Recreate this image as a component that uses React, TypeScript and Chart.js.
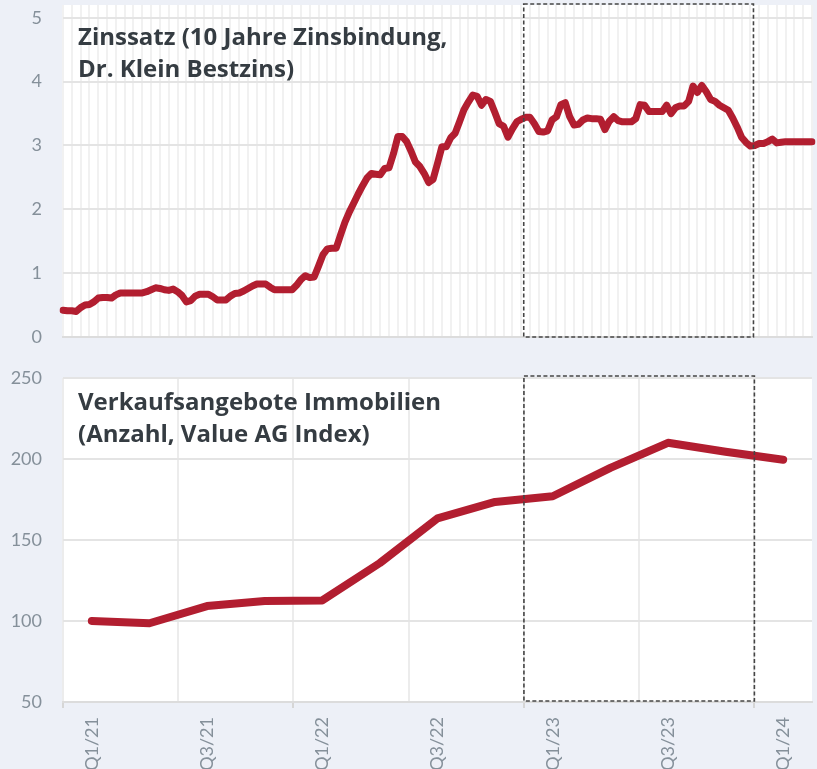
import React, { useEffect, useRef } from 'react';
import { Chart, registerables } from 'chart.js';

Chart.register(...registerables);

// ---------- data ----------
const RATE_START_DATE = '2020-12-30';
const RATE_STEP_DAYS = 7;
const rateValues = [
  0.42, 0.41, 0.41, 0.40, 0.46, 0.50, 0.51, 0.55, 0.61, 0.62,
  0.62, 0.61, 0.66, 0.69, 0.69, 0.69, 0.69, 0.69, 0.69, 0.71,
  0.74, 0.77, 0.76, 0.74, 0.73, 0.75, 0.71, 0.65, 0.55, 0.57,
  0.64, 0.67, 0.67, 0.67, 0.63, 0.58, 0.58, 0.58, 0.64, 0.68,
  0.69, 0.72, 0.76, 0.80, 0.83, 0.83, 0.83, 0.78, 0.74, 0.74,
  0.74, 0.74, 0.74, 0.81, 0.90, 0.96, 0.93, 0.94, 1.11, 1.29,
  1.38, 1.39, 1.39, 1.60, 1.80, 1.96, 2.10, 2.24, 2.37, 2.49,
  2.56, 2.55, 2.54, 2.64, 2.65, 2.87, 3.14, 3.14, 3.06, 2.91,
  2.74, 2.67, 2.56, 2.42, 2.47, 2.72, 2.98, 2.98, 3.12, 3.19,
  3.37, 3.56, 3.68, 3.79, 3.77, 3.63, 3.72, 3.69, 3.52, 3.34,
  3.30, 3.13, 3.26, 3.37, 3.41, 3.44, 3.44, 3.34, 3.22, 3.21,
  3.23, 3.40, 3.45, 3.64, 3.67, 3.45, 3.32, 3.33, 3.40, 3.43,
  3.42, 3.42, 3.41, 3.25, 3.38, 3.45, 3.39, 3.37, 3.37, 3.37,
  3.42, 3.64, 3.63, 3.53, 3.53, 3.53, 3.53, 3.63, 3.50, 3.59,
  3.62, 3.62, 3.69, 3.93, 3.83, 3.94, 3.84, 3.72, 3.69, 3.63,
  3.59, 3.55, 3.43, 3.29, 3.13, 3.05, 2.99, 3.00, 3.03, 3.03,
  3.06, 3.10, 3.04, 3.05, 3.06, 3.06, 3.06, 3.06, 3.06, 3.06,
  3.06,
];
const rateTicks = [0, 1, 2, 3, 4, 5];
const rateMax = 5.2;

const quarterLabels = [
  'Q1/21', 'Q2/21', 'Q3/21', 'Q4/21',
  'Q1/22', 'Q2/22', 'Q3/22', 'Q4/22',
  'Q1/23', 'Q2/23', 'Q3/23', 'Q4/23',
  'Q1/24',
];
const listingValues = [100, 98.6, 109.2, 112.4, 112.7, 135.8, 163.4, 173.5, 177, 194.5, 210, 204.5, 199.5];
const listingTicks = [50, 100, 150, 200, 250];

const highlightFromDate = '2023-01-01';
const highlightToDate = '2024-01-01';
const highlightFromQuarter = 'Q1/23';
const highlightToQuarter = 'Q4/23';

const rateTitle = ['Zinssatz (10 Jahre Zinsbindung,', 'Dr. Klein Bestzins)'];
const listingTitle = ['Verkaufsangebote Immobilien', '(Anzahl, Value AG Index)'];

// ---------- styles ----------
const BG = '#edf0f7';
const LINE = '#b21e30';
const TICK_TEXT = '#85909a';
const TITLE_TEXT = '#353c42';
const GRID_H = '#e4e4e4';
const GRID_V = '#f1f1f1';
const FONT = 'Lato';
const TITLE_FONT = 'bold 24px "Open Sans"';

const DAY = 86400000;
const startMs = Date.parse(RATE_START_DATE);
const rateLabels = rateValues.map((_, i) =>
  new Date(startMs + i * RATE_STEP_DAYS * DAY).toISOString().slice(0, 10)
);

const whiteArea = {
  id: 'whiteArea',
  beforeDraw(chart: any) {
    const { ctx, chartArea: a } = chart;
    ctx.save();
    ctx.fillStyle = '#ffffff';
    ctx.fillRect(a.left, a.top, a.right - a.left, a.bottom - a.top);
    ctx.restore();
  },
};

function makeOverlay(lines: string[], baseOffset: number, rect: (chart: any) => number[]) {
  return {
    id: 'overlay',
    afterDraw(chart: any) {
      const { ctx, chartArea: a } = chart;
      ctx.save();
      const [x1, y1, x2, y2] = rect(chart);
      ctx.strokeStyle = '#454545';
      ctx.lineWidth = 1.6;
      ctx.setLineDash([4, 2.5]);
      ctx.strokeRect(x1, y1, x2 - x1, y2 - y1);
      ctx.setLineDash([]);
      ctx.fillStyle = TITLE_TEXT;
      ctx.font = TITLE_FONT;
      ctx.textBaseline = 'alphabetic';
      ctx.textAlign = 'left';
      lines.forEach((t, i) => ctx.fillText(t, a.left + 15, a.top + baseOffset + i * 32));
      ctx.restore();
    },
  };
}

const yAfterFit = (s: any) => {
  s.width = 63;
  s.paddingTop = 0;
  s.paddingBottom = 0;
};

export default function App() {
  const topRef = useRef<HTMLCanvasElement>(null);
  const botRef = useRef<HTMLCanvasElement>(null);

  useEffect(() => {
    document.body.style.margin = '0';
    document.body.style.background = BG;

    const tickFont = { family: FONT, size: 18 };

    const top = new Chart(topRef.current!, {
      type: 'line',
      data: {
        labels: rateLabels,
        datasets: [{
          data: rateValues,
          borderColor: LINE,
          borderWidth: 7,
          pointRadius: 0,
          borderJoinStyle: 'round',
          borderCapStyle: 'round',
          tension: 0,
        }],
      },
      options: {
        animation: false,
        responsive: false,
        layout: { padding: { top: 5, right: 5, left: 0, bottom: 0 } },
        plugins: { legend: { display: false }, tooltip: { enabled: false } },
        scales: {
          x: {
            type: 'category',
            offset: false,
            ticks: { display: false, autoSkip: false },
            grid: {
              drawTicks: false,
              lineWidth: 2,
              color: (c: any) => (c.index % 2 === 0 ? GRID_V : 'rgba(0,0,0,0)'),
            },
            border: { display: true, color: '#dcdcdc', width: 2 },
            afterFit: (s: any) => { s.height = 13; s.paddingLeft = 0; s.paddingRight = 0; },
          },
          y: {
            min: 0,
            max: rateMax,
            afterBuildTicks: (s: any) => { s.ticks = rateTicks.map((v) => ({ value: v })); },
            ticks: { color: TICK_TEXT, font: tickFont, padding: 21 },
            grid: { drawTicks: false, color: GRID_H, lineWidth: 2 },
            border: { display: false },
            afterFit: yAfterFit,
          },
        },
      },
      plugins: [
        whiteArea,
        makeOverlay(rateTitle, 40, (chart: any) => {
          const xs = chart.scales.x;
          const a = chart.chartArea;
          const f = (d: string) => (Date.parse(d) - startMs) / (RATE_STEP_DAYS * DAY);
          return [xs.getPixelForValue(f(highlightFromDate)), a.top - 1, xs.getPixelForValue(f(highlightToDate)), a.bottom];
        }),
      ],
    });

    const bot = new Chart(botRef.current!, {
      type: 'line',
      data: {
        labels: quarterLabels,
        datasets: [{
          data: listingValues,
          borderColor: LINE,
          borderWidth: 8,
          pointRadius: 0,
          borderJoinStyle: 'round',
          borderCapStyle: 'round',
          tension: 0,
        }],
      },
      options: {
        animation: false,
        responsive: false,
        layout: { padding: { top: 28, right: 5, left: 0, bottom: 0 } },
        plugins: { legend: { display: false }, tooltip: { enabled: false } },
        scales: {
          x: {
            type: 'category',
            offset: true,
            ticks: {
              color: TICK_TEXT,
              font: tickFont,
              autoSkip: false,
              minRotation: 90,
              maxRotation: 90,
              padding: 9,
              callback: (_v: any, i: number) => (i % 2 === 0 ? quarterLabels[i] : ''),
            },
            grid: {
              offset: true,
              lineWidth: 2,
              tickLength: 6,
              color: (c: any) => (c.index % 2 === 0 && c.index < quarterLabels.length ? '#ececec' : 'rgba(0,0,0,0)'),
              tickColor: (c: any) => (c.index % 4 === 0 ? '#d6d6d6' : 'rgba(0,0,0,0)'),
            },
            border: { display: true, color: '#dcdcdc', width: 2 },
            afterFit: (s: any) => { s.height = 67; s.paddingLeft = 0; s.paddingRight = 0; },
          },
          y: {
            min: 50,
            max: 250,
            afterBuildTicks: (s: any) => { s.ticks = listingTicks.map((v) => ({ value: v })); },
            ticks: { color: TICK_TEXT, font: tickFont, padding: 21 },
            grid: { drawTicks: false, color: GRID_H, lineWidth: 2 },
            border: { display: false },
            afterFit: yAfterFit,
          },
        },
      },
      plugins: [
        whiteArea,
        makeOverlay(listingTitle, 32, (chart: any) => {
          const xs = chart.scales.x;
          const a = chart.chartArea;
          const i1 = quarterLabels.indexOf(highlightFromQuarter) - 0.5;
          const i2 = quarterLabels.indexOf(highlightToQuarter) + 0.5;
          return [xs.getPixelForValue(i1), a.top - 2, xs.getPixelForValue(i2), a.bottom - 1];
        }),
      ],
    });

    return () => {
      top.destroy();
      bot.destroy();
    };
  }, []);

  return (
    <div style={{ position: 'absolute', left: 0, top: 0, width: 817, height: 769, background: BG, overflow: 'hidden' }}>
      <canvas ref={topRef} width={817} height={350} style={{ position: 'absolute', left: 0, top: 0, width: 817, height: 350 }} />
      <canvas ref={botRef} width={817} height={419} style={{ position: 'absolute', left: 0, top: 350, width: 817, height: 419 }} />
    </div>
  );
}
